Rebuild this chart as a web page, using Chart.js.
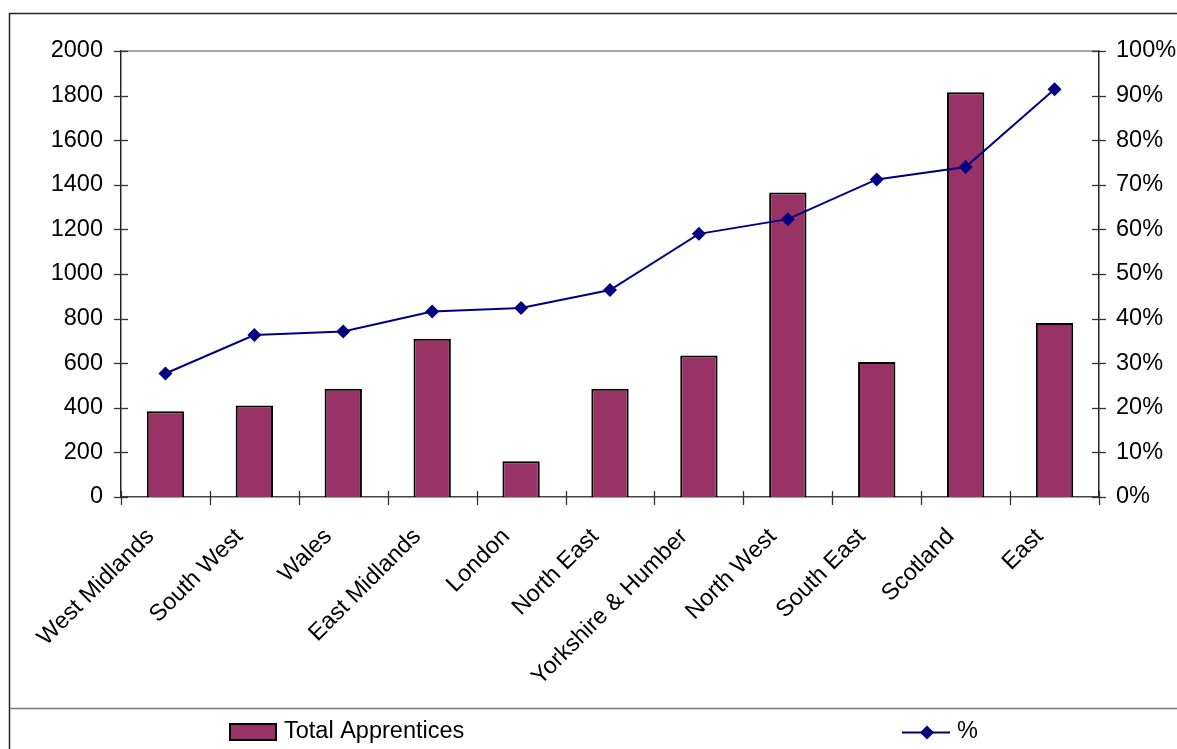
<!DOCTYPE html>
<html>
<head>
<meta charset="utf-8">
<script src="https://cdn.jsdelivr.net/npm/chart.js@4.4.0/dist/chart.umd.min.js"></script>
<style>
html,body{margin:0;padding:0;background:#fff;}
#wrap{width:1177px;height:749px;position:relative;}
</style>
</head>
<body>
<div id="wrap"><canvas id="c" width="1177" height="749"></canvas></div>
<script>
const categories = ["West Midlands","South West","Wales","East Midlands","London","North East","Yorkshire & Humber","North West","South East","Scotland","East"];
const totalApprentices = [385, 410, 485, 710, 160, 485, 635, 1365, 605, 1815, 780];
const percentValues = [27.7, 36.3, 37.1, 41.6, 42.4, 46.4, 59.0, 62.3, 71.2, 74.0, 91.4];
const leftTicks = [0,200,400,600,800,1000,1200,1400,1600,1800,2000];
const rightTicks = [0,10,20,30,40,50,60,70,80,90,100];

const FONT = "Liberation Sans, Arial, sans-serif";
const FSIZE = 23.5;
const BAR_COLOR = "#993366";
const LINE_COLOR = "#000080";

const decor = {
  id: "decor",
  beforeDraw(chart) {
    const ctx = chart.ctx;
    ctx.save();
    ctx.fillStyle = "#fff";
    ctx.fillRect(0, 0, chart.width, chart.height);
    ctx.restore();
  },
  afterDraw(chart) {
    const ctx = chart.ctx;
    const x = chart.scales.x, y = chart.scales.y, y1 = chart.scales.y1;
    const a = chart.chartArea;
    ctx.save();
    // outer frame
    ctx.strokeStyle = "#222";
    ctx.lineWidth = 1.5;
    ctx.beginPath();
    ctx.moveTo(9.5, 760); ctx.lineTo(9.5, 13.5); ctx.lineTo(1190, 13.5);
    ctx.stroke();
    // legend separator
    ctx.strokeStyle = "#777";
    ctx.lineWidth = 1.5;
    ctx.beginPath();
    ctx.moveTo(9.5, 708.5); ctx.lineTo(1190, 708.5);
    ctx.stroke();
    // top line at max
    ctx.strokeStyle = "#888";
    ctx.lineWidth = 1.5;
    const yt = y.getPixelForValue(2000);
    ctx.beginPath(); ctx.moveTo(a.left, yt); ctx.lineTo(a.right, yt); ctx.stroke();
    // ticks
    ctx.strokeStyle = "#333";
    ctx.lineWidth = 1.3;
    leftTicks.forEach(v => {
      const p = Math.round(y.getPixelForValue(v)) + 0.5;
      ctx.beginPath(); ctx.moveTo(a.left - 7, p); ctx.lineTo(a.left + 7, p); ctx.stroke();
    });
    rightTicks.forEach(v => {
      const p = Math.round(y1.getPixelForValue(v)) + 0.5;
      ctx.beginPath(); ctx.moveTo(a.right - 7, p); ctx.lineTo(a.right + 7, p); ctx.stroke();
    });
    for (let i = 0; i <= categories.length; i++) {
      const p = Math.round(x.getPixelForValue(i - 0.5)) + 0.5;
      ctx.beginPath(); ctx.moveTo(p, a.bottom - 6); ctx.lineTo(p, a.bottom + 8); ctx.stroke();
    }
    // legend
    const ds0 = chart.data.datasets[1], ds1 = chart.data.datasets[0];
    ctx.fillStyle = BAR_COLOR;
    ctx.strokeStyle = "#000";
    ctx.lineWidth = 2;
    ctx.fillRect(230, 724, 46, 16);
    ctx.strokeRect(230, 724, 46, 16);
    ctx.fillStyle = "#000";
    ctx.font = FSIZE + "px " + FONT;
    ctx.textBaseline = "middle";
    ctx.textAlign = "left";
    ctx.fillText(ds0.label, 284, 732);
    ctx.strokeStyle = LINE_COLOR;
    ctx.lineWidth = 2;
    ctx.beginPath(); ctx.moveTo(902, 732.5); ctx.lineTo(950, 732.5); ctx.stroke();
    ctx.fillStyle = LINE_COLOR;
    ctx.beginPath();
    ctx.moveTo(927, 725.5); ctx.lineTo(934, 732.5); ctx.lineTo(927, 739.5); ctx.lineTo(920, 732.5); ctx.closePath();
    ctx.fill();
    ctx.fillStyle = "#000";
    ctx.fillText(ds1.label, 957, 732);
    ctx.restore();
  }
};

new Chart(document.getElementById("c"), {
  type: "bar",
  data: {
    labels: categories,
    datasets: [
      {
        type: "line",
        label: "%",
        data: percentValues,
        yAxisID: "y1",
        borderColor: LINE_COLOR,
        backgroundColor: LINE_COLOR,
        borderWidth: 2,
        pointStyle: "rectRot",
        pointRadius: 7,
        pointHoverRadius: 7,
        pointBackgroundColor: LINE_COLOR,
        pointBorderColor: LINE_COLOR,
        pointBorderWidth: 0,
        tension: 0,
        order: 0
      },
      {
        type: "bar",
        label: "Total Apprentices",
        data: totalApprentices,
        yAxisID: "y",
        backgroundColor: BAR_COLOR,
        borderColor: "#000",
        borderWidth: 2,
        barPercentage: 0.42,
        categoryPercentage: 1.0,
        order: 1
      }
    ]
  },
  options: {
    responsive: false,
    animation: false,
    events: [],
    layout: { padding: { top: 51, left: 0, right: 0, bottom: 0 } },
    plugins: { legend: { display: false }, tooltip: { enabled: false } },
    scales: {
      x: {
        offset: true,
        grid: { display: false, drawTicks: false },
        border: { display: true, color: "#444", width: 1.5 },
        ticks: {
          color: "#000",
          font: { family: FONT, size: FSIZE },
          minRotation: 45,
          maxRotation: 45,
          autoSkip: false,
          padding: 26,
          labelOffset: -15
        },
        afterFit(s) { s.height = 252; }
      },
      y: {
        position: "left",
        min: 0, max: 2000,
        afterBuildTicks(s) { s.ticks = leftTicks.map(v => ({ value: v })); },
        grid: { display: false, drawTicks: false },
        border: { display: true, color: "#222", width: 1.5 },
        ticks: {
          color: "#000",
          font: { family: FONT, size: FSIZE },
          padding: 18,
          callback: v => String(v)
        },
        afterFit(s) { s.width = 121; }
      },
      y1: {
        position: "right",
        min: 0, max: 100,
        afterBuildTicks(s) { s.ticks = rightTicks.map(v => ({ value: v })); },
        grid: { display: false, drawTicks: false },
        border: { display: true, color: "#222", width: 1.5 },
        ticks: {
          color: "#000",
          font: { family: FONT, size: FSIZE },
          padding: 17,
          callback: v => v + "%"
        },
        afterFit(s) { s.width = 78; }
      }
    }
  },
  plugins: [decor]
});
</script>
</body>
</html>
